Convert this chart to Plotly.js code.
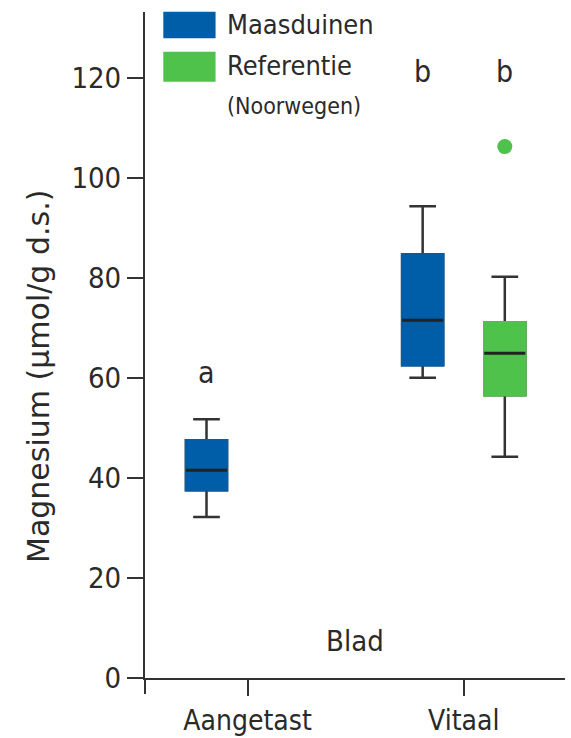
<!DOCTYPE html>
<html>
<head>
<meta charset="utf-8">
<script src="https://cdn.plot.ly/plotly-3.0.1.min.js"></script>
<style>
  html, body { margin: 0; padding: 0; background: #ffffff; }
  #chart { width: 571px; height: 738px; }
</style>
</head>
<body>
<div id="chart"></div>
<script>
// ---------- data ----------
const categories = ['Aangetast', 'Vitaal'];
const seriesNames = ['Maasduinen', 'Referentie'];
const legendNote = '(Noorwegen)';

// Maasduinen (both categories)
const maasX      = ['Aangetast', 'Vitaal'];
const maasLower  = [32.2, 60.0];
const maasQ1     = [37.5, 62.5];
const maasMedian = [41.5, 71.5];
const maasQ3     = [47.5, 84.7];
const maasUpper  = [51.7, 94.3];

// Referentie (Noorwegen) (only Vitaal)
const refX        = ['Vitaal'];
const refLower    = [44.2];
const refQ1       = [56.5];
const refMedian   = [64.9];
const refQ3       = [71.1];
const refUpper    = [80.2];
const refOutliers = [[106.2]];

const yTickVals = [0, 20, 40, 60, 80, 100, 120];
const groupLetters = [['a'], ['b', 'b']];  // per category: letters above boxes
const yLabel = 'Magnesium (µmol/g d.s.)';
const xLabel = 'Blad';

// ---------- styling ----------
const colors = ['#005DA8', '#4EC24B'];
const dark = '#333333';
const textColor = '#2a2a2a';
const narrow = '"DejaVu Sans Condensed", "Liberation Sans Narrow", Roboto, sans-serif';

function boxLayers(name, idx, x, lo, q1, med, q3, hi, outliers) {
  const common = {
    type: 'box', x: x, offsetgroup: 'g' + idx, alignmentgroup: 'A',
    showlegend: false, hoverinfo: 'skip', whiskerwidth: 0.65
  };
  // full box: whiskers + outline + median in dark
  const full = Object.assign({}, common, {
    name: name,
    q1: q1, median: med, q3: q3, lowerfence: lo, upperfence: hi,
    fillcolor: colors[idx],
    line: { color: dark, width: 2.5 },
    boxpoints: outliers ? 'outliers' : false,
    marker: { color: colors[idx], size: 15, line: { width: 0 } },
    pointpos: 0
  });
  if (outliers) full.y = outliers;
  // cover: box body in its own colour (hides the dark outline)
  const cover = Object.assign({}, common, {
    name: name + ' body',
    q1: q1, median: q1, q3: q3, lowerfence: q1, upperfence: q3,
    fillcolor: colors[idx],
    line: { color: colors[idx], width: 2.5 },
    boxpoints: false
  });
  // median line on top
  const medLine = Object.assign({}, common, {
    name: name + ' median',
    q1: med, median: med, q3: med, lowerfence: med, upperfence: med,
    fillcolor: 'rgba(0,0,0,0)',
    line: { color: '#222222', width: 3 },
    whiskerwidth: 0,
    boxpoints: false
  });
  return [full, cover, medLine];
}

const traces = [].concat(
  boxLayers(seriesNames[0], 0, maasX, maasLower, maasQ1, maasMedian, maasQ3, maasUpper, null),
  boxLayers(seriesNames[1], 1, refX, refLower, refQ1, refMedian, refQ3, refUpper, refOutliers)
);

// group offset of the two boxes (category units), matching boxgap
const boxGap = 0.24;
const halfOffset = (1 - boxGap) / 4;

const annotations = [];
// significance letters
annotations.push({ x: 0 - halfOffset, y: 61.1, text: groupLetters[0][0] });
annotations.push({ x: 1 - halfOffset, y: 121.2, text: groupLetters[1][0] });
annotations.push({ x: 1 + halfOffset, y: 121.2, text: groupLetters[1][1] });
annotations.forEach(a => Object.assign(a, {
  xref: 'x', yref: 'y', showarrow: false, xanchor: 'center', yanchor: 'middle',
  font: { family: narrow, size: 30, color: textColor }
}));
// "Blad" label
annotations.push({
  xref: 'paper', yref: 'y', x: 0.5, y: 7.3, text: xLabel, showarrow: false,
  xanchor: 'center', yanchor: 'middle',
  font: { family: narrow, size: 29, color: textColor }
});
// y-axis title (placed like the reference, slightly below the axis centre)
annotations.push({
  xref: 'paper', yref: 'paper', x: 0, xshift: -106, y: 0.452, text: yLabel, showarrow: false,
  textangle: -90, xanchor: 'center', yanchor: 'middle',
  font: { family: '"DejaVu Sans", sans-serif', size: 30, color: textColor }
});
// legend texts
annotations.push({
  xref: 'paper', yref: 'paper', x: 0.19, y: 0.9805, text: seriesNames[0], showarrow: false,
  xanchor: 'left', yanchor: 'middle', font: { family: narrow, size: 27, color: textColor }
});
annotations.push({
  xref: 'paper', yref: 'paper', x: 0.19, y: 0.919, text: seriesNames[1], showarrow: false,
  xanchor: 'left', yanchor: 'middle', font: { family: narrow, size: 27, color: textColor }
});
annotations.push({
  xref: 'paper', yref: 'paper', x: 0.19, y: 0.859, text: legendNote, showarrow: false,
  xanchor: 'left', yanchor: 'middle', font: { family: narrow, size: 23, color: textColor }
});

const shapes = [
  // legend swatches
  { type: 'rect', xref: 'paper', yref: 'paper', x0: 0.0436, x1: 0.168, y0: 0.9605, y1: 1.0005,
    fillcolor: colors[0], line: { width: 0 }, layer: 'above' },
  { type: 'rect', xref: 'paper', yref: 'paper', x0: 0.0436, x1: 0.168, y0: 0.8953, y1: 0.9404,
    fillcolor: colors[1], line: { width: 0 }, layer: 'above' },
  // tick at the axis origin (below the x axis)
  { type: 'line', xref: 'paper', yref: 'paper', x0: 0, x1: 0, ysizemode: 'pixel', yanchor: 0,
    y0: 0, y1: -16, line: { color: dark, width: 2 } }
];

const layout = {
  width: 571, height: 738,
  margin: { l: 145, r: 6, t: 12, b: 60, pad: 0 },
  paper_bgcolor: '#ffffff', plot_bgcolor: '#ffffff',
  showlegend: false,
  boxmode: 'group', boxgap: boxGap, boxgroupgap: 0.5,
  xaxis: {
    type: 'category', categoryorder: 'array', categoryarray: categories,
    range: [-0.4745, 1.4685],
    showline: true, linecolor: dark, linewidth: 2,
    ticks: 'outside', ticklen: 16, tickwidth: 2, tickcolor: dark,
    showgrid: false, zeroline: false, fixedrange: true,
    tickfont: { family: narrow, size: 28, color: textColor }
  },
  yaxis: {
    range: [0, 133.1], tickmode: 'array', tickvals: yTickVals,
    showline: true, linecolor: dark, linewidth: 2,
    ticks: 'outside', ticklen: 16, tickwidth: 2, tickcolor: dark,
    showgrid: false, zeroline: false, fixedrange: true,
    tickfont: { family: narrow, size: 29, color: textColor }
  },
  annotations: annotations,
  shapes: shapes
};

Plotly.newPlot('chart', traces, layout, { displayModeBar: false, staticPlot: true });
</script>
</body>
</html>
